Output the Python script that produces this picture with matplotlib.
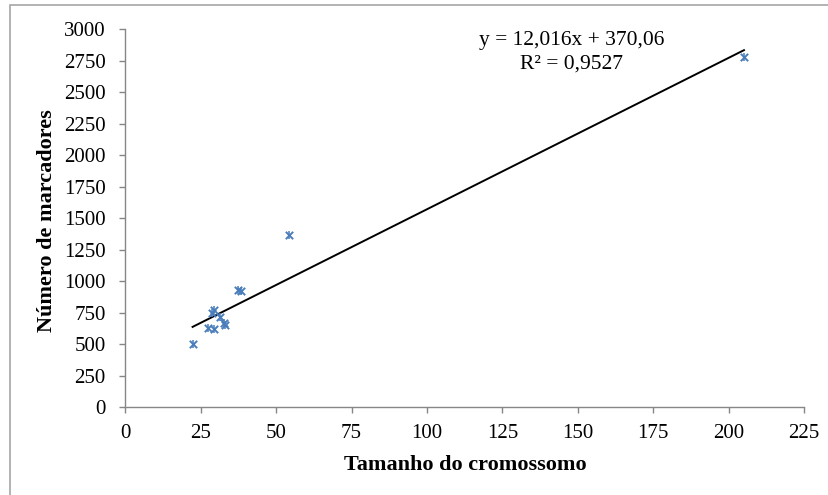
import matplotlib
matplotlib.use("Agg")
import matplotlib.pyplot as plt
from matplotlib.patches import Rectangle
import numpy as np

# Data
tamanho = [22.3, 27.4, 29.3, 28.7, 29.4, 31.3, 32.6, 33.2, 37.5, 38.3, 54.3, 205.1]
marcadores = [505, 630, 620, 745, 775, 715, 670, 650, 930, 920, 1365, 2780]
slope = 12.016
intercept = 370.06
eq_text = "y = 12,016x + 370,06"
r2_text = "R² = 0,9527"
xticks = [0, 25, 50, 75, 100, 125, 150, 175, 200, 225]
yticks = [0, 250, 500, 750, 1000, 1250, 1500, 1750, 2000, 2250, 2500, 2750, 3000]

plt.rcParams['font.family'] = ['Liberation Serif', 'DejaVu Serif']

fig = plt.figure(figsize=(8.29, 4.95), dpi=100)
fig.patches.append(Rectangle((10/829, -0.1), 1.2, 1 - 5/495 + 0.1, transform=fig.transFigure,
                             fill=False, edgecolor='#a6a6a6', linewidth=1.2, zorder=0))
ax = fig.add_axes([125.3/829, 1 - 407.3/495, (804 - 125.3)/829, (407.3 - 29.3)/495])

blue = '#4a7ebb'
ax.scatter(tamanho, marcadores, marker='x', s=28, color=blue, linewidths=1.4, zorder=3)
ax.scatter(tamanho, marcadores, marker='|', s=26, color=blue, linewidths=1.1, zorder=3)

xs = np.array([min(tamanho), max(tamanho)])
ax.plot(xs, slope * xs + intercept, color='black', linewidth=1.4, zorder=2)

ax.set_xlim(0, 225)
ax.set_ylim(0, 3000)
ax.set_xticks(xticks)
ax.set_yticks(yticks)
ax.tick_params(axis='both', direction='out', length=4, width=1, color='#868686',
               labelsize=15)
ax.tick_params(axis='y', pad=10)
ax.tick_params(axis='x', pad=8)
for s in ['top', 'right']:
    ax.spines[s].set_visible(False)
for s in ['left', 'bottom']:
    ax.spines[s].set_color('#868686')
    ax.spines[s].set_linewidth(1)

fig.text(465/829, 1 - 465/495, 'Tamanho do cromossomo', fontsize=16, fontweight='bold',
         ha='center', va='center')
fig.text(47.5/829, 1 - 221/495, 'Número de marcadores', fontsize=16, fontweight='bold',
         ha='center', va='center', rotation=90)

ax.text(148, 2915, eq_text, ha='center', va='center', fontsize=15.5)
ax.text(148, 2725, r2_text, ha='center', va='center', fontsize=15.5)

fig.savefig('out.png', dpi=100)
